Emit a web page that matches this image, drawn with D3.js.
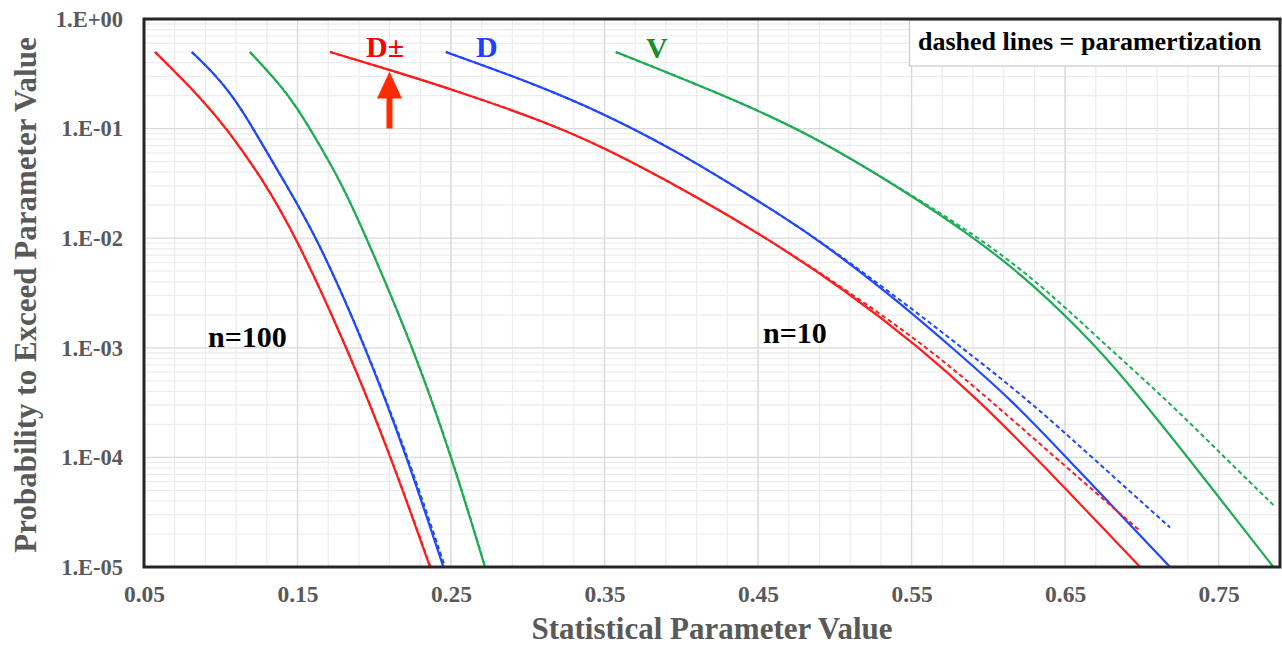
<!DOCTYPE html>
<html>
<head>
<meta charset="utf-8">
<script src="https://cdn.jsdelivr.net/npm/d3@7"></script>
<style>
    body { margin: 0; background: #fff; }
    svg { display: block; font-family: "Liberation Serif", "Times New Roman", serif; font-weight: bold; }
</style>
</head>
<body>
<svg id="chart" width="1282" height="646"></svg>
<script>
// curves are [statistic, probability to exceed]
// n = 100
let dpm100 = [[0.0572, 0.5], [0.0865, 0.195], [0.1039, 0.1], [0.1277, 0.034], [0.1495, 0.01],
    [0.1823, 0.001], [0.211, 1e-4], [0.2363, 1e-5]]
let d100 = [[0.0811, 0.5], [0.0955, 0.32], [0.1082, 0.195], [0.1212, 0.1], [0.1407, 0.034], [0.163, 0.01],
    [0.1946, 0.001], [0.2214, 1e-4], [0.245, 1e-5]]
let v100 = [[0.119, 0.5], [0.139, 0.25], [0.1505, 0.148], [0.1581, 0.1], [0.1777, 0.034],
    [0.1951, 0.01], [0.2254, 0.001], [0.2505, 1e-4], [0.2721, 1e-5]]
let dpm100Fit = [[0.0572, 0.5], [0.0865, 0.195], [0.1039, 0.1], [0.1277, 0.034], [0.1495, 0.01],
    [0.1824, 0.001], [0.2112, 1e-4], [0.2366, 1e-5]]
let d100Fit = [[0.0811, 0.5], [0.0955, 0.32], [0.1082, 0.195], [0.1212, 0.1], [0.1407, 0.034], [0.163, 0.01],
    [0.1947, 0.001], [0.2221, 1e-4], [0.2461, 1e-5]]
let v100Fit = [[0.119, 0.5], [0.139, 0.25], [0.1505, 0.148], [0.1581, 0.1], [0.1777, 0.034],
    [0.1951, 0.01], [0.2255, 0.001], [0.2507, 1e-4], [0.2723, 1e-5]]

// n = 10
let dpm10 = [[0.1712, 0.5], [0.2103, 0.3425], [0.2559, 0.2157], [0.308, 0.1198], [0.3492, 0.0684],
    [0.4101, 0.0239], [0.4557, 0.01], [0.5067, 0.00337], [0.5555, 0.001], [0.5935, 3.34e-4],
    [0.6309, 1e-4], [0.6989, 1e-5]]
let d10 = [[0.2466, 0.5], [0.2976, 0.2776], [0.3492, 0.1388], [0.3992, 0.0599], [0.4492, 0.0223],
    [0.4882, 0.01], [0.5403, 0.00273], [0.5764, 0.001], [0.6153, 3.34e-4], [0.6507, 1e-4],
    [0.7184, 1e-5]]
let v10 = [[0.3573, 0.5], [0.4339, 0.1862], [0.486, 0.0856], [0.5425, 0.0287], [0.5903, 0.0103],
    [0.6293, 0.00382], [0.6728, 9.55e-4], [0.6989, 3.48e-4], [0.7288, 1.05e-4], [0.7857, 1e-5]]
let dpm10Fit = [[0.1712, 0.5], [0.2103, 0.3425], [0.2559, 0.2157], [0.308, 0.1198], [0.3492, 0.0684],
    [0.4101, 0.0239], [0.4557, 0.01], [0.5077, 0.00337], [0.5607, 0.001], [0.6011, 3.34e-4],
    [0.6435, 1e-4], [0.6989, 2.13e-5]]
let d10Fit = [[0.2466, 0.5], [0.2976, 0.2776], [0.3492, 0.1388], [0.3992, 0.0599], [0.4492, 0.0223],
    [0.4882, 0.01], [0.5428, 0.00273], [0.5829, 0.001], [0.6261, 3.34e-4], [0.6676, 1e-4],
    [0.7184, 2.29e-5]]
let v10Fit = [[0.3573, 0.5], [0.4339, 0.1862], [0.486, 0.0856], [0.5425, 0.0287], [0.5934, 0.0103],
    [0.6337, 0.00382], [0.6728, 0.00118], [0.7162, 3.34e-4], [0.7536, 1.01e-4], [0.7868, 3.55e-5]]

let xTicks = [0.05, 0.15, 0.25, 0.35, 0.45, 0.55, 0.65, 0.75]
let yTicks = [1, 1e-1, 1e-2, 1e-3, 1e-4, 1e-5]
let xDomain = [0.05, 0.79]
let yDomain = [1e-5, 1]

let red = "#ff1c1c", blue = "#1f48ff", green = "#1fac55"
let series = [
    {data: dpm100, color: red}, {data: d100, color: blue}, {data: v100, color: green},
    {data: dpm10, color: red}, {data: d10, color: blue}, {data: v10, color: green},
    {data: dpm100Fit, color: red, dashed: true}, {data: d100Fit, color: blue, dashed: true},
    {data: v100Fit, color: green, dashed: true},
    {data: dpm10Fit, color: red, dashed: true}, {data: d10Fit, color: blue, dashed: true},
    {data: v10Fit, color: green, dashed: true},
]

let plotLeft = 144, plotRight = 1280, plotTop = 19, plotBottom = 567
let x = d3.scaleLinear().domain(xDomain).range([plotLeft, plotRight])
let y = d3.scaleLog().domain(yDomain).range([plotBottom, plotTop])
let svg = d3.select("svg#chart")

// grid
let minorX = d3.range(0, 38).map(i => +(0.05 + i * 0.02).toFixed(2))
let minorY = []
for (let e = -5; e < 0; e++) {
    for (let m = 2; m < 10; m++) minorY.push(m * Math.pow(10, e))
}
let grid = svg.append("g").classed("grid", true)
grid.append("g").selectAll("line")
    .data(minorX)
    .join("line")
        .attr("x1", d => x(d)).attr("x2", d => x(d))
        .attr("y1", plotTop).attr("y2", plotBottom)
        .attr("stroke", "#ececec").attr("stroke-width", 1.2)
grid.append("g").selectAll("line")
    .data(minorY)
    .join("line")
        .attr("x1", plotLeft).attr("x2", plotRight)
        .attr("y1", d => y(d)).attr("y2", d => y(d))
        .attr("stroke", "#ececec").attr("stroke-width", 1.2)
grid.append("g").selectAll("line")
    .data(xTicks)
    .join("line")
        .attr("x1", d => x(d)).attr("x2", d => x(d))
        .attr("y1", plotTop).attr("y2", plotBottom)
        .attr("stroke", "#d9d9d9").attr("stroke-width", 1.3)
grid.append("g").selectAll("line")
    .data(yTicks)
    .join("line")
        .attr("x1", plotLeft).attr("x2", plotRight)
        .attr("y1", d => y(d)).attr("y2", d => y(d))
        .attr("stroke", "#d9d9d9").attr("stroke-width", 1.3)

// axes
let fmtY = d => {
    let e = Math.round(Math.log10(d))
    return "1.E" + (e < 0 ? "-" : "+") + String(Math.abs(e)).padStart(2, "0")
}
let xAxis = svg.append("g")
    .attr("transform", `translate(0,${plotBottom})`)
    .call(d3.axisBottom(x).tickValues(xTicks).tickSize(0).tickPadding(18).tickFormat(d3.format(".2f")))
let yAxis = svg.append("g")
    .attr("transform", `translate(${plotLeft},0)`)
    .call(d3.axisLeft(y).tickValues(yTicks).tickSize(0).tickPadding(21).tickFormat(fmtY))
for (let ax of [xAxis, yAxis]) {
    ax.select(".domain").remove()
    ax.selectAll("text")
        .attr("fill", "#595959")
        .style("font-family", "Liberation Serif, serif")
        .style("font-weight", "bold")
}
xAxis.selectAll("text").style("font-size", "23.5px")
yAxis.selectAll("text").style("font-size", "22.5px")

svg.append("text")
    .attr("x", (plotLeft + plotRight) / 2)
    .attr("y", 639)
    .attr("text-anchor", "middle")
    .attr("fill", "#595959")
    .style("font-size", "31px")
    .text("Statistical Parameter Value")
svg.append("text")
    .attr("transform", `translate(36,${(plotTop + plotBottom) / 2 + 2}) rotate(-90)`)
    .attr("text-anchor", "middle")
    .attr("fill", "#595959")
    .style("font-size", "31px")
    .text("Probability to Exceed Parameter Value")

// curves
let line = d3.line()
    .x(d => x(d[0]))
    .y(d => y(d[1]))
    .curve(d3.curveBasis)
svg.append("g")
    .classed("curves", true)
    .selectAll("path")
    .data(series)
    .join("path")
        .attr("fill", "none")
        .attr("stroke", d => d.color)
        .attr("stroke-width", d => d.dashed ? 2 : 2.2)
        .attr("stroke-dasharray", d => d.dashed ? "4.5,3" : null)
        .attr("d", d => line(d.data))

// legend note
let note = svg.append("g")
note.append("rect")
    .attr("x", 909.5).attr("y", 20)
    .attr("width", 380).attr("height", 46)
    .attr("fill", "#fff")
    .attr("stroke", "#c8c8c8")
    .attr("stroke-width", 1.2)
note.append("text")
    .attr("x", 918).attr("y", 50)
    .attr("fill", "#000")
    .style("font-size", "26px")
    .text("dashed lines = paramertization")

// curve labels
let labels = [
    {text: "D\u00b1", x: 366, y: 57, color: "#ff0000"},
    {text: "D", x: 476, y: 57, color: "#1f40ff"},
    {text: "V", x: 646, y: 58, color: "#16902a"},
    {text: "n=100", x: 208, y: 347, color: "#000"},
    {text: "n=10", x: 763, y: 343, color: "#000"},
]
svg.append("g")
    .selectAll("text")
    .data(labels)
    .join("text")
        .attr("x", d => d.x)
        .attr("y", d => d.y)
        .attr("fill", d => d.color)
        .style("font-size", "30px")
        .text(d => d.text)

// arrow pointing at the D± curve
let ax0 = 389.5
svg.append("path")
    .attr("d", `M ${ax0 - 3},128.5 L ${ax0 - 3},98.5 L ${ax0 - 12.5},98.5 L ${ax0},71.5 L ${ax0 + 12.5},98.5 L ${ax0 + 3},98.5 L ${ax0 + 3},128.5 Z`)
    .attr("fill", "#ff2a00")

// frame
svg.append("rect")
    .attr("x", plotLeft).attr("y", plotTop)
    .attr("width", plotRight - plotLeft).attr("height", plotBottom - plotTop)
    .attr("fill", "none")
    .attr("stroke", "#262626")
    .attr("stroke-width", 3)
</script>
</body>
</html>
